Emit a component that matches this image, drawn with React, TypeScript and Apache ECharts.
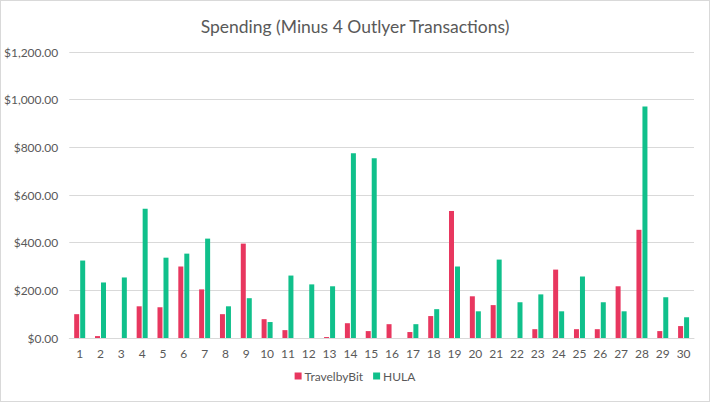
import React, { useEffect, useRef } from "react";
import * as echarts from "echarts";

const categories = [
  "1","2","3","4","5","6","7","8","9","10",
  "11","12","13","14","15","16","17","18","19","20",
  "21","22","23","24","25","26","27","28","29","30",
];
const travelbyBit = [
  100, 8, 0, 133, 129, 300, 204, 100, 396, 79,
  33, 0, 4, 62, 29, 58, 25, 92, 533, 175,
  138, 0, 37, 287, 37, 37, 217, 454, 29, 50,
];
const hula = [
  325, 233, 254, 542, 337, 354, 417, 133, 167, 67,
  262, 225, 217, 775, 754, 0, 58, 121, 300, 112,
  329, 150, 183, 112, 258, 150, 112, 971, 171, 87,
];
const yTicks = [0, 200, 400, 600, 800, 1000, 1200];

const FONT = "Lato, 'Open Sans', sans-serif";

function fmt(v: number): string {
  return "$" + v.toLocaleString("en-US", { minimumFractionDigits: 2, maximumFractionDigits: 2 });
}

export default function App() {
  const ref = useRef<HTMLDivElement>(null);
  useEffect(() => {
    document.body.style.margin = "0";
    const chart = echarts.init(ref.current!, null, { renderer: "svg" });
    chart.setOption({
      animation: false,
      backgroundColor: "#ffffff",
      title: {
        text: "Spending (Minus 4 Outlyer Transactions)",
        left: "center",
        top: 11,
        textStyle: { fontFamily: FONT, fontSize: 17.5, fontWeight: "normal", color: "#595959" },
      },
      legend: {
        bottom: 14,
        left: "center",
        itemWidth: 7,
        itemHeight: 7,
        itemGap: 10,
        icon: "rect",
        textStyle: { fontFamily: FONT, fontSize: 12, color: "#595959", padding: [0, 0, 0, -2] },
        data: ["TravelbyBit", "HULA"],
      },
      grid: { left: 68, right: 15, top: 51, bottom: 63, containLabel: false },
      xAxis: {
        type: "category",
        data: categories,
        axisLine: { lineStyle: { color: "#d9d9d9" } },
        axisTick: { show: false },
        axisLabel: { fontFamily: FONT, fontSize: 12, color: "#595959", margin: 9, interval: 0 },
      },
      yAxis: {
        type: "value",
        min: yTicks[0],
        max: yTicks[yTicks.length - 1],
        interval: 200,
        axisLine: { show: false },
        axisTick: { show: false },
        splitLine: { lineStyle: { color: "#d9d9d9" } },
        axisLabel: {
          fontFamily: FONT,
          fontSize: 12,
          color: "#595959",
          margin: 11,
          formatter: (v: number) => fmt(v),
        },
      },
      series: [
        {
          name: "TravelbyBit",
          type: "bar",
          data: travelbyBit,
          barWidth: 5,
          barGap: "20%",
          itemStyle: { color: "#E8375F" },
        },
        {
          name: "HULA",
          type: "bar",
          data: hula,
          barWidth: 5,
          itemStyle: { color: "#10C08B" },
        },
      ],
    });
    return () => chart.dispose();
  }, []);
  return (
    <div
      ref={ref}
      style={{
        position: "fixed",
        left: 0,
        top: 0,
        width: 710,
        height: 402,
        boxSizing: "border-box",
        border: "1px solid #d9d9d9",
      }}
    />
  );
}
